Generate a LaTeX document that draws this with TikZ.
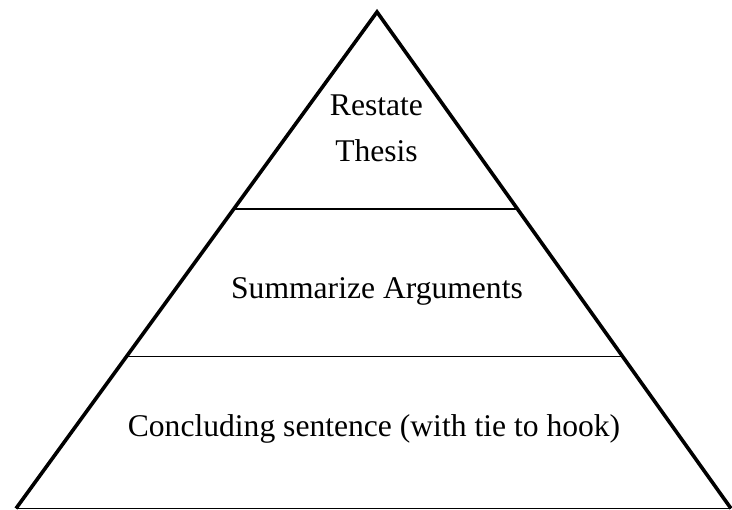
\documentclass[tikz,border=0pt]{standalone}
\usepackage{fontspec}
\setmainfont{Liberation Serif}
\usetikzlibrary{calc}
\tikzset{
  leg/.style={line width=3.6pt, line join=miter, line cap=butt},
  tier/.style={line width=1.5pt},
  lbl/.style={font=\fontsize{31.6}{46}\selectfont, inner sep=0pt, align=center}
}
\begin{document}
\begin{tikzpicture}[x=1pt,y=1pt]
\useasboundingbox (0,0) rectangle (732,510);
\coordinate (A) at (377,498);
\coordinate (L) at (16,1.5);
\coordinate (R) at (731,1.5);
\draw[tier] (L) -- (R);
\draw[leg] (L) -- (A) -- (R);
\coordinate (l1) at ($(A)!0.397!(L)$);
\coordinate (r1) at ($(A)!0.397!(R)$);
\coordinate (l2) at ($(A)!0.694!(L)$);
\coordinate (r2) at ($(A)!0.694!(R)$);
\draw[tier] (l1) -- (r1);
\draw[tier] (l2) -- (r2);
\node[lbl, anchor=center] (t1) at (376.5,381.5) {Restate\\Thesis};
\node[lbl, anchor=base] (t2) at (377,211) {Summarize Arguments};
\node[lbl, anchor=base] (t3) at (374,73) {Concluding sentence (with tie to hook)};
\end{tikzpicture}
\end{document}
